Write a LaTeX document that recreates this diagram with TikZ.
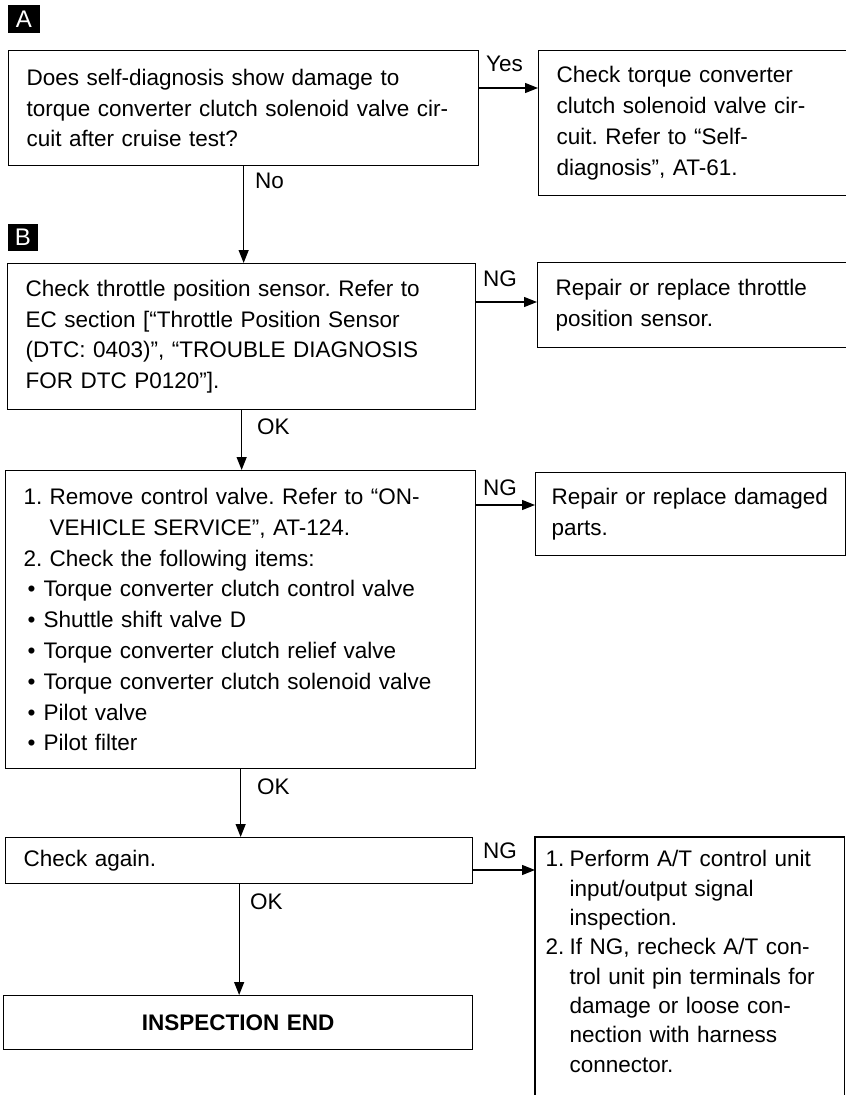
\documentclass[tikz,border=0pt]{standalone}
\usepackage{fontspec}
\setmainfont{Liberation Sans}
\usepackage{tikz}
\usetikzlibrary{arrows.meta, positioning, calc}
\newcommand{\numit}[2][26pt]{\makebox[#1][l]{#2}}
\newcommand{\dotit}{\hspace*{4pt}\makebox[16pt][l]{\textbullet}}
\frenchspacing

\begin{document}
\begin{tikzpicture}[x=1pt, y=-1pt,
    every node/.style={font=\fontsize{22.5}{30.8}\selectfont},
    box/.style={draw, line width=1.3pt, anchor=north west, align=left, inner xsep=18pt, inner ysep=0pt},
    badge/.style={fill=black, text=white, inner sep=0pt, font=\fontsize{24}{24}\selectfont},
    lbl/.style={anchor=west, inner sep=0pt},
    arr/.style={line width=1.2pt, -{Triangle[length=13pt, width=10pt]}}]
  \useasboundingbox (0,0) rectangle (846,1095);
  \node[badge, minimum width=32pt, minimum height=28pt] (secA) at (24,19) {A};
  \node[badge, minimum width=30pt, minimum height=27pt] (secB) at (23,237) {B};

  \node[box, text width=434pt, minimum height=115pt] (selfdiag) at (8,50)
    {Does self-diagnosis show damage to\\torque converter clutch solenoid valve cir-\\cuit after cruise test?};
  \node[box, text width=272pt, minimum height=145pt] (ccsv) at (538,50)
    {Check torque converter\\clutch solenoid valve cir-\\cuit. Refer to “Self-\\diagnosis”, AT-61.};
  \node[box, text width=432pt, minimum height=146pt] (tps) at (7,263)
    {Check throttle position sensor. Refer to\\EC section [“Throttle Position Sensor\\(DTC: 0403)”, “TROUBLE DIAGNOSIS\\FOR DTC P0120”].};
  \node[box, text width=273pt, minimum height=85pt] (fixtps) at (537,262)
    {Repair or replace throttle\\position sensor.};
  \node[box, text width=434pt, minimum height=298pt] (valves) at (5,470)
    {\numit{1.}Remove control valve. Refer to “ON-\\
     \numit{}VEHICLE SERVICE”, AT-124.\\
     \numit{2.}Check the following items:\\
     \dotit Torque converter clutch control valve\\
     \dotit Shuttle shift valve D\\
     \dotit Torque converter clutch relief valve\\
     \dotit Torque converter clutch solenoid valve\\
     \dotit Pilot valve\\
     \dotit Pilot filter};
  \node[box, inner xsep=16pt, text width=278pt, minimum height=83pt] (fixparts) at (535,472)
    {Repair or replace damaged\\parts.};
  \node[box, text width=431pt, minimum height=46pt] (again) at (5,837) {Check again.};
  \node[box, draw=none, inner xsep=10pt, inner ysep=13pt, text width=288pt,
        font=\fontsize{22.5}{29.3}\selectfont] (tcu) at (535,837)
    {\numit[24pt]{1.}Perform A/T control unit\\
     \numit[24pt]{}input/output signal\\
     \numit[24pt]{}inspection.\\
     \numit[24pt]{2.}If NG, recheck A/T con-\\
     \numit[24pt]{}trol unit pin terminals for\\
     \numit[24pt]{}damage or loose con-\\
     \numit[24pt]{}nection with harness\\
     \numit[24pt]{}connector.};
  \draw[line width=1.3pt] (tcu.north west) rectangle (tcu.north east |- 0,1102);
  \node[box, align=center, text width=433pt, minimum height=54pt,
        font=\fontsize{22.5}{30.8}\selectfont\bfseries] (done) at (3,995) {INSPECTION END};

  \node[lbl] (yes) at (486,64) {Yes};
  \node[lbl] (no) at (255,181) {No};
  \node[lbl] (ng1) at (483,279) {NG};
  \node[lbl] (ok1) at (257,427) {OK};
  \node[lbl] (ng2) at (483,488) {NG};
  \node[lbl] (ok2) at (257,787) {OK};
  \node[lbl] (ng3) at (483,851) {NG};
  \node[lbl] (ok3) at (250,902) {OK};

  \draw[arr] (selfdiag.east |- 0,88) -- (ccsv.west |- 0,88);
  \draw[arr] (selfdiag.south) -- (selfdiag.south |- tps.north);
  \draw[arr] (tps.east |- 0,302) -- (fixtps.west |- 0,302);
  \draw[arr] (tps.south) -- (tps.south |- valves.north);
  \draw[arr] (valves.east |- 0,505) -- (fixparts.west |- 0,505);
  \draw[arr] (valves.south) -- (valves.south |- again.north);
  \draw[arr] (again.east |- 0,870) -- (tcu.west |- 0,870);
  \draw[arr] (again.south) -- (again.south |- done.north);
\end{tikzpicture}
\end{document}
